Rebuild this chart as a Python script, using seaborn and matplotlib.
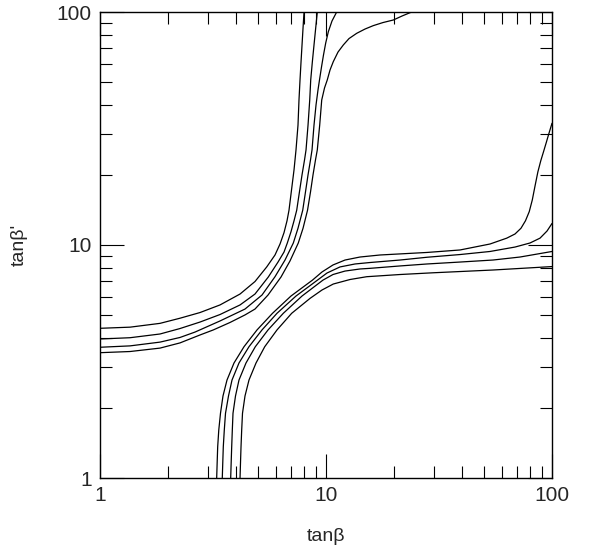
import pandas as pd
import matplotlib
matplotlib.use("Agg")
import matplotlib.pyplot as plt
import matplotlib.ticker as mticker
import seaborn as sns

# upper-left family of contours (tanb, tanb')
u1_x = [1.0, 1.358, 1.843, 2.259, 2.77, 3.396, 4.165, 4.851, 5.466, 5.948, 6.26, 6.52,
        6.722, 6.859, 7.036, 7.219, 7.367, 7.518, 7.594, 7.674, 7.753, 7.833, 7.914, 7.995]
u1_y = [4.39, 4.44, 4.61, 4.85, 5.13, 5.53, 6.16, 6.97, 8.05, 9.06, 10.1, 11.3,
        12.7, 14.1, 17.2, 21.0, 25.6, 32.7, 41.9, 51.1, 61.0, 72.2, 85.4, 100]
u2_x = [1.0, 1.358, 1.843, 2.259, 2.77, 3.396, 4.165, 4.851, 5.556, 6.134, 6.52, 6.743,
        7.0, 7.219, 7.42, 7.594, 7.833, 8.036, 8.159, 8.327, 8.472, 8.558, 8.70, 8.85,
        9.004, 9.152]
u2_y = [3.95, 4.00, 4.15, 4.38, 4.67, 5.03, 5.53, 6.16, 7.29, 8.45, 9.33, 10.2,
        11.4, 12.7, 14.1, 16.4, 20.0, 23.2, 25.6, 32.7, 41.9, 51.1, 61.0, 72.2,
        85.4, 100]
u3_x = [1.0, 1.358, 1.843, 2.259, 2.633, 3.396, 4.381, 5.21, 5.948, 6.587, 7.168, 7.518,
        7.889, 8.077, 8.327, 8.54, 8.673, 8.85, 9.033, 9.217, 9.359, 9.553, 9.748, 9.97,
        10.24, 10.63, 11.15]
u3_y = [3.64, 3.69, 3.83, 4.01, 4.23, 4.72, 5.31, 6.10, 7.31, 8.62, 10.2, 11.8,
        14.1, 16.4, 20.0, 23.2, 25.6, 32.7, 39.9, 46.3, 51.1, 58.1, 65.4, 73.6,
        82.3, 91.5, 100]
u4_x = [1.0, 1.358, 1.843, 2.259, 2.77, 3.172, 3.76, 4.381, 4.851, 5.54, 6.324, 6.929,
        7.54, 7.914, 8.284, 8.54, 8.761, 8.986, 9.152, 9.378, 9.573, 9.849, 10.13, 10.42,
        10.77, 11.30, 11.93, 12.64, 13.67, 14.88, 16.19, 17.87, 19.86, 21.69, 23.94]
u4_y = [3.45, 3.49, 3.61, 3.80, 4.11, 4.32, 4.65, 5.01, 5.31, 6.10, 7.29, 8.54,
        10.2, 11.8, 14.1, 16.9, 20.0, 23.2, 25.6, 32.7, 41.9, 47.2, 51.1, 56.4,
        61.2, 67.3, 72.2, 76.9, 81.0, 84.5, 87.4, 90.1, 92.4, 96.1, 100]

# lower-right family
l1_x = [3.283, 3.30, 3.317, 3.354, 3.413, 3.501, 3.647, 3.917, 4.337, 4.952, 5.799, 7.0,
        8.716, 9.601, 10.74, 12.14, 14.14, 17.34, 27.99, 39.17, 53.19, 63.05, 68.6,
        72.9, 76.3, 79.3, 81.8, 84.1, 86.6, 89.2, 91.8, 94.3, 96.8, 100]
l1_y = [1.0, 1.171, 1.362, 1.607, 1.896, 2.249, 2.633, 3.116, 3.66, 4.32, 5.092, 6.04,
        7.07, 7.66, 8.21, 8.62, 8.88, 9.06, 9.29, 9.52, 10.1, 10.7, 11.15,
        11.8, 12.7, 13.9, 15.6, 17.9, 20.6, 23.0, 25.2, 27.5, 30.0, 33.3]
l2_x = [3.476, 3.494, 3.512, 3.548, 3.592, 3.703, 3.838, 4.121, 4.563, 5.21, 6.07, 7.367,
        9.172, 10.10, 11.53, 13.44, 15.65, 21.26, 27.99, 39.17, 53.19, 68.6, 79.92,
        88.5, 95.05, 100]
l2_y = [1.0, 1.171, 1.362, 1.607, 1.896, 2.249, 2.633, 3.116, 3.66, 4.32, 5.092, 6.04,
        7.07, 7.58, 8.05, 8.29, 8.41, 8.62, 8.86, 9.10, 9.38, 9.80, 10.2,
        10.7, 11.48, 12.37]
l3_x = [3.787, 3.806, 3.826, 3.85, 3.877, 3.977, 4.121, 4.426, 4.867, 5.54, 6.473, 7.833,
        9.699, 10.74, 12.14, 14.14, 15.65, 21.26, 27.99, 39.17, 54.82, 72.19, 100]
l3_y = [1.0, 1.171, 1.362, 1.607, 1.896, 2.249, 2.633, 3.116, 3.66, 4.32, 5.092, 6.04,
        7.07, 7.47, 7.73, 7.89, 7.94, 8.13, 8.29, 8.45, 8.62, 8.88, 9.38]
l4_x = [4.165, 4.186, 4.207, 4.236, 4.271, 4.381, 4.563, 4.902, 5.357, 6.07, 7.05, 8.497,
        9.601, 10.77, 12.77, 15.14, 21.26, 29.85, 54.82, 100]
l4_y = [1.0, 1.171, 1.362, 1.607, 1.896, 2.249, 2.633, 3.116, 3.66, 4.32, 5.092, 5.90,
        6.41, 6.80, 7.11, 7.31, 7.47, 7.60, 7.81, 8.08]

tick_vals = [1, 10, 100]
tick_labels = ["1", "10", "100"]

curves = {
    "u1": (u1_x, u1_y), "u2": (u2_x, u2_y), "u3": (u3_x, u3_y), "u4": (u4_x, u4_y),
    "l1": (l1_x, l1_y), "l2": (l2_x, l2_y), "l3": (l3_x, l3_y), "l4": (l4_x, l4_y),
}


def build_frame():
    rows = []
    for name, (xs, ys) in curves.items():
        for i, (x, y) in enumerate(zip(xs, ys)):
            rows.append({"curve": name, "order": i, "tanb": x, "tanbp": y})
    return pd.DataFrame(rows)


def main():
    sns.set_style("ticks")
    plt.rcParams["font.family"] = ["Liberation Sans", "DejaVu Sans"]

    df = build_frame()

    fig = plt.figure(figsize=(5.96, 5.49), dpi=100)
    ax = fig.add_axes([100 / 596, 1 - 478 / 549, 452 / 596, 466 / 549])

    sns.lineplot(data=df, x="tanb", y="tanbp", units="curve", estimator=None,
                 sort=False, color="black", linewidth=0.9, ax=ax, legend=False)

    ax.set_xscale("log")
    ax.set_yscale("log")
    ax.set_xlim(1, 100)
    ax.set_ylim(1, 100)

    for axis in (ax.xaxis, ax.yaxis):
        axis.set_major_locator(mticker.FixedLocator(tick_vals))
        axis.set_major_formatter(mticker.FixedFormatter(tick_labels))
        axis.set_minor_locator(mticker.LogLocator(base=10, subs=range(2, 10)))
        axis.set_minor_formatter(mticker.NullFormatter())

    ax.tick_params(which="both", direction="in", top=True, right=True,
                   color="black", width=0.8, labelsize=15, pad=6)
    ax.tick_params(which="major", length=17)
    ax.tick_params(which="minor", length=8.5)
    for s in ax.spines.values():
        s.set_linewidth(1.0)
        s.set_color("black")

    ax.set_xlabel("tan\u03b2", fontsize=14, labelpad=16)
    ax.set_ylabel("tan\u03b2'", fontsize=14, labelpad=21)

    fig.savefig("out.png", dpi=100)
    plt.close(fig)


if __name__ == "__main__":
    main()
